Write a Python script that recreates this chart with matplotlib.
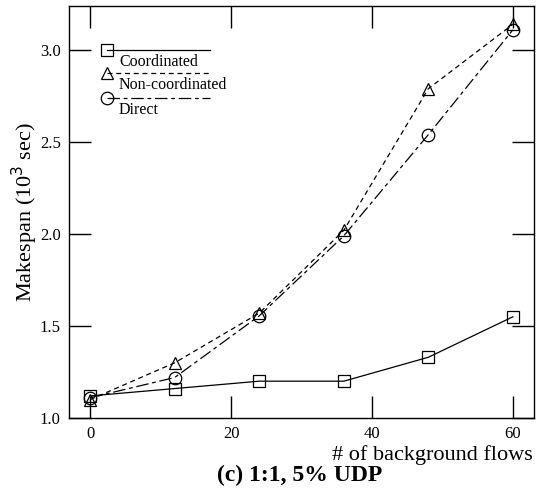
import matplotlib.pyplot as plt

plt.rcParams['font.family'] = ['Liberation Serif', 'DejaVu Serif']

flows = [0, 12, 24, 36, 48, 60]
coordinated = [1.12, 1.16, 1.20, 1.20, 1.33, 1.55]
non_coordinated = [1.10, 1.30, 1.57, 2.02, 2.79, 3.14]
direct = [1.11, 1.22, 1.555, 1.99, 2.54, 3.11]

names = ['Coordinated', 'Non-coordinated', 'Direct']
markers = ['s', '^', 'o']
styles = ['-', (0, (4, 3)), (0, (10, 3, 3, 3))]

fig = plt.figure(figsize=(5.37, 4.95), dpi=100)
ax = fig.add_axes([0.1285, 0.1556, 0.8659, 0.8324])

for ys, m, ls in zip([coordinated, non_coordinated, direct], markers, styles):
    ax.plot(flows, ys, color='black', lw=0.9, linestyle=ls, marker=m,
            markersize=9, markerfacecolor='none', markeredgecolor='black',
            markeredgewidth=0.9)

ax.set_xlim(-3, 63)
ax.set_ylim(1.0, 3.24)
ax.set_xticks([0, 20, 40, 60])
ax.set_yticks([1.0, 1.5, 2.0, 2.5, 3.0])
ax.set_yticklabels(['1.0', '1.5', '2.0', '2.5', '3.0'])
ax.tick_params(direction='in', length=16, width=1, top=True, right=True,
               labelsize=12, pad=6)
for s in ax.spines.values():
    s.set_linewidth(1)

ax.set_ylabel('Makespan (10$^3$ sec)', fontsize=16, labelpad=0)
ax.text(0.998, -0.065, '# of background flows', transform=ax.transAxes,
        ha='right', va='top', fontsize=16)
fig.text(0.558, 0.04, '(c) 1:1, 5% UDP', ha='center', va='center',
         fontsize=17, fontweight='bold')

# hand-made legend: marker at left, line to the right, label below
rows = [0.893, 0.837, 0.777]
for name, m, ls, y in zip(names, markers, styles, rows):
    ax.plot([0.0817, 0.303], [y, y], transform=ax.transAxes, color='black',
            lw=0.9, linestyle=ls)
    ax.plot([0.0817], [y], transform=ax.transAxes, marker=m, markersize=9,
            markerfacecolor='none', markeredgecolor='black',
            markeredgewidth=0.9, linestyle='none')
    ax.text(0.1075, y - 0.01, name, transform=ax.transAxes, ha='left',
            va='top', fontsize=11.5)

fig.savefig('out.png', dpi=100)
